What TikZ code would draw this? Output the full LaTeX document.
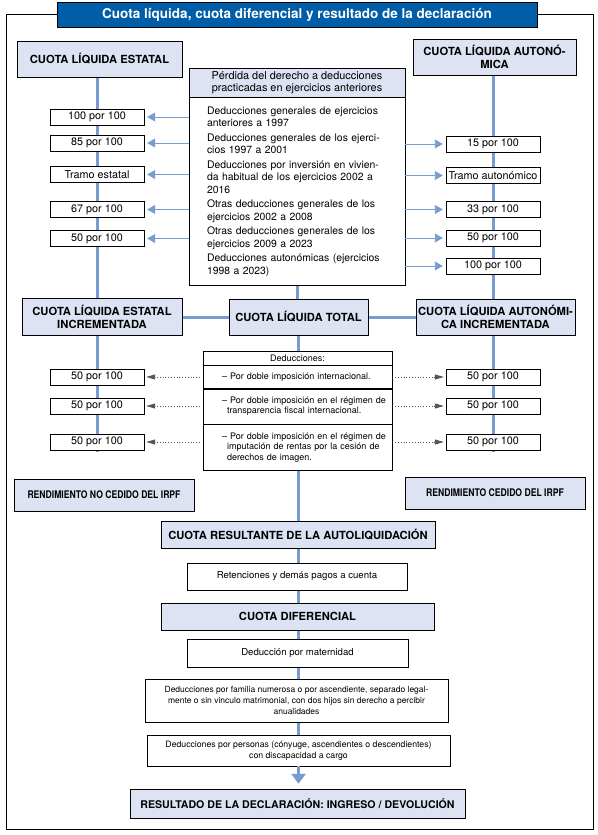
\documentclass[tikz,border=0pt]{standalone}
\usepackage{fontspec}
\setmainfont{TeX Gyre Heros}
\newfontfamily\condfont[FakeStretch=0.82]{TeX Gyre Heros}
\usetikzlibrary{positioning, arrows.meta, backgrounds}

\definecolor{titblue}{RGB}{0,94,168}
\definecolor{lav}{RGB}{221,227,243}
\definecolor{lineblue}{RGB}{120,155,210}
\definecolor{dotgray}{RGB}{85,85,85}

\tikzset{
  head/.style={draw, fill=lav, align=center, inner sep=0pt, font=\bfseries\fontsize{11.2}{12.5}\selectfont},
  pct/.style={draw, fill=white, inner sep=0pt, minimum width=94pt, minimum height=16pt, font=\fontsize{10.8}{12}\selectfont},
  txtbox/.style={draw, fill=white, align=center, inner sep=0pt, font=\fontsize{9.6}{11}\selectfont},
  dedrow/.style={draw, fill=white, align=left, inner xsep=5pt, inner ysep=0pt, text width=179pt, minimum height=#1, font=\fontsize{9}{10.5}\selectfont},
  bline/.style={lineblue, line width=3pt},
  barrow/.style={lineblue, line width=0.9pt, -{Triangle[length=8pt,width=9pt]}, shorten >=3pt},
  darrow/.style={dotgray, dotted, line width=0.8pt, -{Triangle[length=9pt,width=5pt]}, shorten >=2pt, shorten <=3pt},
}

\begin{document}
\begin{tikzpicture}[x=1pt, y=-1pt]

\useasboundingbox (0,0) rectangle (597,835);

\def\xl{97}
\def\xr{493}

% title and frame
\node[draw, fill=titblue, text=white, minimum width=480pt, minimum height=25pt, inner sep=0pt, font=\bfseries\fontsize{13.5}{15}\selectfont] (title) at (297, 14.5) {Cuota líquida, cuota diferencial y resultado de la declaración};
\coordinate (fbl) at (6, 829);
\coordinate (fbr) at (593, 829);
\draw[line width=0.8pt] (title.west) -| (fbl) -- (fbr) |- (title.east);

% cuotas liquidas
\node[head, minimum width=165pt, minimum height=36pt] (estatal) at (99.5, 59) {CUOTA LÍQUIDA ESTATAL};
\node[head, minimum width=163pt, minimum height=36pt] (auton) at (494.5, 57) {CUOTA LÍQUIDA AUTONÓ-\\MICA};

\node[txtbox, fill=lav, minimum width=216pt, minimum height=29pt, font=\fontsize{10.9}{12}\selectfont] (perdh) at (297, 82.5) {Pérdida del derecho a deducciones\\practicadas en ejercicios anteriores};
\node[draw, fill=white, below=0pt of perdh, minimum width=216pt, minimum height=188pt, text width=180pt, inner xsep=18pt, align=left, font=\fontsize{10.4}{12.5}\selectfont] (perdb) {Deducciones generales de ejercicios\\
anteriores a 1997\\[2pt]
Deducciones generales de los ejerci-\\
cios 1997 a 2001\\[2pt]
Deducciones por inversión en vivien-\\
da habitual de los ejercicios 2002 a\\
2016\\[2pt]
Otras deducciones generales de los\\
ejercicios 2002 a 2008\\[2pt]
Otras deducciones generales de los\\
ejercicios 2009 a 2023\\[2pt]
Deducciones autonómicas (ejercicios\\
1998 a 2023)};

\node[pct] (l1) at (\xl, 117) {100 por 100};
\node[pct] (l2) at (\xl, 143) {85 por 100};
\node[pct] (l3) at (\xl, 174.5) {Tramo estatal};
\node[pct] (l4) at (\xl, 209.5) {67 por 100};
\node[pct] (l5) at (\xl, 238.5) {50 por 100};

\node[pct] (r1) at (\xr, 144) {15 por 100};
\node[pct] (r2) at (\xr, 175.5) {Tramo autonómico};
\node[pct] (r3) at (\xr, 209.5) {33 por 100};
\node[pct] (r4) at (\xr, 238) {50 por 100};
\node[pct] (r5) at (\xr, 266) {100 por 100};

\foreach \n in {l1,l2,l3,l4,l5}
  \draw[barrow] (perdb.west |- \n) -- (\n.east);
\foreach \n in {r1,r2,r3,r4,r5}
  \draw[barrow] (perdb.east |- \n) -- (\n.west);

% cuotas incrementadas
\node[head, minimum width=160pt, minimum height=37pt] (estincr) at (102, 317) {CUOTA LÍQUIDA ESTATAL\\INCREMENTADA};
\node[head, minimum width=139pt, minimum height=36pt] (total) at (298.5, 317) {CUOTA LÍQUIDA TOTAL};
\node[head, minimum width=159pt, minimum height=36pt] (autincr) at (495.5, 317) {CUOTA LÍQUIDA AUTONÓMI-\\CA INCREMENTADA};

\node[txtbox, minimum width=189pt, minimum height=14pt, font=\fontsize{9}{11}\selectfont] (dh) at (297.5, 358) {Deducciones:};
\node[dedrow=23pt, below=0pt of dh] (d1) {\hspace*{14pt}– Por doble imposición internacional.};
\node[dedrow=35pt, below=0pt of d1] (d2) {\hspace*{14pt}– Por doble imposición en el régimen de\\\hspace*{19pt}transparencia fiscal internacional.};
\node[dedrow=46pt, below=0pt of d2] (d3) {\hspace*{14pt}– Por doble imposición en el régimen de\\\hspace*{19pt}imputación de rentas por la cesión de\\\hspace*{19pt}derechos de imagen.};

\node[pct] (lb1) at (\xl, 377) {50 por 100};
\node[pct] (lb2) at (\xl, 406) {50 por 100};
\node[pct] (lb3) at (\xl, 442) {50 por 100};
\node[pct] (rb1) at (\xr, 377) {50 por 100};
\node[pct] (rb2) at (\xr, 406) {50 por 100};
\node[pct] (rb3) at (\xr, 442) {50 por 100};

\foreach \n/\d in {lb1/d1,lb2/d2,lb3/d3}
  \draw[darrow] (\d.west |- \n) -- (\n.east);
\foreach \n/\d in {rb1/d1,rb2/d2,rb3/d3}
  \draw[darrow] (\d.east |- \n) -- (\n.west);

\node[head, minimum width=180pt, minimum height=32pt, font=\condfont\bfseries\fontsize{10.5}{12}\selectfont] (noced) at (104, 495) {RENDIMIENTO NO CEDIDO DEL IRPF};
\node[head, minimum width=180pt, minimum height=32pt, font=\condfont\bfseries\fontsize{10.5}{12}\selectfont] (ced) at (495, 493) {RENDIMIENTO CEDIDO DEL IRPF};

% cuota diferencial y resultado
\node[head, minimum width=274pt, minimum height=27pt] (resul) at (298, 534.5) {CUOTA RESULTANTE DE LA AUTOLIQUIDACIÓN};
\node[txtbox, minimum width=220pt, minimum height=27pt] (reten) at (297, 576.5) {Retenciones y demás pagos a cuenta};
\node[head, minimum width=273pt, minimum height=27pt] (cdif) at (297.5, 616.5) {CUOTA DIFERENCIAL};
\node[txtbox, minimum width=221pt, minimum height=28pt] (mat) at (297.5, 653) {Deducción por maternidad};
\node[txtbox, minimum width=303pt, minimum height=43pt, font=\fontsize{8.5}{11}\selectfont] (fam) at (296.5, 700.5) {Deducciones por familia numerosa o por ascendiente, separado legal-\\mente o sin vinculo matrimonial, con dos hijos sin derecho a percibir\\anualidades};
\node[txtbox, minimum width=303pt, minimum height=31pt, font=\fontsize{8.7}{11}\selectfont] (pers) at (298.5, 750.5) {Deducciones por personas (cónyuge, ascendientes o descendientes)\\con discapacidad a cargo};
\node[head, minimum width=335pt, minimum height=29pt, font=\bfseries\fontsize{10.6}{12}\selectfont] (resultado) at (297.5, 803.5) {RESULTADO DE LA DECLARACIÓN: INGRESO / DEVOLUCIÓN};

\draw[bline, -{Triangle[length=10pt,width=14pt]}, shorten >=5pt] (pers.south) -- (pers.south |- resultado.north);

\begin{scope}[on background layer]
\draw[bline] (l1 |- estatal.south) -- (l1 |- estincr.north);
\draw[bline] (r1 |- auton.south) -- (r1 |- autincr.north);
\draw[bline] (lb1 |- estincr.south) -- ([yshift=-2pt]lb3.south);
\draw[bline] (rb1 |- autincr.south) -- ([yshift=-2pt]rb3.south);
\draw[bline] (perdb.south) -- (perdb.south |- total.north);
\draw[bline] (estincr.east) -- (total.west);
\draw[bline] (total.east) -- (autincr.west);
\draw[bline] (total.south) -- (total.south |- resul.north);
\draw[bline] (resul.south) -- (resul.south |- pers.south);
\end{scope}

\end{tikzpicture}
\end{document}
